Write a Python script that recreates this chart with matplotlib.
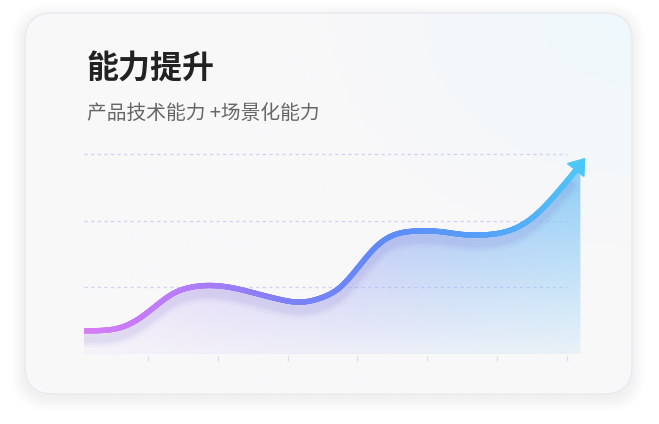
import numpy as np
import matplotlib.pyplot as plt
from matplotlib.patches import FancyBboxPatch, Polygon
from matplotlib.collections import LineCollection
from matplotlib.colors import LinearSegmentedColormap, to_rgb

plt.rcParams['font.family'] = ['Noto Sans CJK SC', 'DejaVu Sans']

# ---- data ----
title = "能力提升"
subtitle = "产品技术能力 +场景化能力"
curve_x = [-0.92, -0.59, -0.36, -0.12, 0.13, 0.36, 0.60, 0.89, 1.18, 1.51, 1.89, 2.18,
           2.47, 2.76, 3.04, 3.33, 3.62, 3.90, 4.19, 4.48, 4.76, 5.05, 5.34, 5.62,
           5.91, 6.10, 6.27]
curve_y = [0.35, 0.36, 0.41, 0.54, 0.74, 0.91, 1.00, 1.03, 1.00, 0.92, 0.82, 0.78,
           0.84, 1.01, 1.34, 1.67, 1.82, 1.85, 1.84, 1.80, 1.79, 1.82, 1.93, 2.15,
           2.48, 2.72, 2.95]
grid_y = [1, 2, 3]
tick_x = [0, 1, 2, 3, 4, 5, 6]
fill_end = 6.2

line_colors = ["#d87cf5", "#b57bf9", "#7f80f8", "#5f8af8", "#55a0f8", "#4ec6f7"]
fill_colors = ["#e6cffc", "#c6b6f7", "#a6aaf5", "#8ab8f6", "#7cc6f7"]


def smooth(x, y, xs):
    # natural cubic spline, only used to draw a smooth line through the points
    x = np.asarray(x, float)
    y = np.asarray(y, float)
    n = len(x)
    h = np.diff(x)
    A = np.zeros((n, n))
    b = np.zeros(n)
    A[0, 0] = A[-1, -1] = 1
    for i in range(1, n - 1):
        A[i, i - 1] = h[i - 1]
        A[i, i] = 2 * (h[i - 1] + h[i])
        A[i, i + 1] = h[i]
        b[i] = 6 * ((y[i + 1] - y[i]) / h[i] - (y[i] - y[i - 1]) / h[i - 1])
    M = np.linalg.solve(A, b)
    idx = np.clip(np.searchsorted(x, xs) - 1, 0, n - 2)
    x0, x1 = x[idx], x[idx + 1]
    hh = h[idx]
    a = (x1 - xs) / hh
    c = (xs - x0) / hh
    return (a * y[idx] + c * y[idx + 1]
            + ((a**3 - a) * M[idx] + (c**3 - c) * M[idx + 1]) * hh**2 / 6)


fig = plt.figure(figsize=(6.59, 4.24), dpi=100)
fig.patch.set_facecolor("white")

# ---- card background ----
bg = fig.add_axes([0, 0, 1, 1])
bg.set_xlim(0, 659)
bg.set_ylim(424, 0)
bg.axis("off")

cx, cy, cw, ch = 25, 13, 607, 381
for i in range(14, 0, -1):
    sh = FancyBboxPatch((cx - i, cy - i + 4), cw + 2 * i, ch + 2 * i,
                        boxstyle="round,pad=0,rounding_size=%d" % (28 + i),
                        facecolor="#aab0c8", edgecolor="none", alpha=0.010)
    bg.add_patch(sh)
card = FancyBboxPatch((cx, cy), cw, ch, boxstyle="round,pad=0,rounding_size=28",
                      facecolor="#f8f8f9", edgecolor="none")
bg.add_patch(card)

gx, gy = np.meshgrid(np.linspace(cx, cx + cw, 200), np.linspace(cy, cy + ch, 130))
dist = np.hypot(gx - (cx + cw), (gy - cy) * 1.3)
t = np.clip(1 - dist / 300, 0, 1)[..., None]
c0 = np.array(to_rgb("#f8f8f9"))
c1 = np.array(to_rgb("#eef7fc"))
img = c0 * (1 - t) + c1 * t
im = bg.imshow(img, extent=(cx, cx + cw, cy + ch, cy), origin="upper",
               interpolation="bilinear", aspect="auto", zorder=1)
im.set_clip_path(card)
border = FancyBboxPatch((cx, cy), cw, ch, boxstyle="round,pad=0,rounding_size=28",
                        facecolor="none", edgecolor="#e9e9ee", linewidth=1.0, zorder=2)
bg.add_patch(border)

bg.text(86, 70, title, fontsize=23, fontweight="bold", color="#222222",
        va="center", ha="left", zorder=3)
bg.text(87, 113, subtitle, fontsize=14.2, color="#666666",
        va="center", ha="left", zorder=3)

# ---- chart ----
ax = fig.add_axes([84 / 659, 70 / 424, 516 / 659, 214 / 424])
ax.set_xlim(-0.92, 6.48)
ax.set_ylim(0, 3.218)
ax.axis("off")
ax.patch.set_alpha(0)

ax.hlines(grid_y, -0.92, 6, colors="#d4d1f5", linewidth=0.95,
          linestyles=(0, (2.5, 2.5)), zorder=1)
ax.hlines([0], -0.92, 6, colors="#dcdcf7", linewidth=0.9, zorder=1)
ax.vlines(tick_x, -0.035, -0.105, colors="#dcdcee", linewidth=0.9, clip_on=False)

xs = np.linspace(curve_x[0], curve_x[-1], 800)
ys = smooth(curve_x, curve_y, xs)

# area fill with gradient
mask = xs <= fill_end
poly_pts = np.column_stack([np.r_[xs[mask], fill_end, xs[0]],
                            np.r_[ys[mask], 0, 0]])
poly = Polygon(poly_pts, closed=True, facecolor="none", edgecolor="none")
ax.add_patch(poly)
fcmap = LinearSegmentedColormap.from_list("fill", fill_colors)
H, W = 150, 300
fx = np.linspace(0, 1, W)
fy = np.linspace(3.0, 0, H)
rgba = np.zeros((H, W, 4))
rgba[..., :3] = fcmap(fx)[None, :, :3]
rgba[..., 3] = np.clip(0.12 + 0.26 * fy, 0, 1)[:, None]
fim = ax.imshow(rgba, extent=(xs[0], fill_end, 0, 3.0), origin="upper",
                aspect="auto", interpolation="bilinear", zorder=2)
fim.set_clip_path(poly)

# soft shadow under line
for w, a in [(13, 0.035), (9, 0.05), (6, 0.06)]:
    ax.plot(xs[:-25], ys[:-25] - 0.12, color="#6f62c8", linewidth=w, alpha=a,
            solid_capstyle="round", zorder=3)

# gradient line
lcmap = LinearSegmentedColormap.from_list("line", line_colors)
end = len(xs) - 12
pts = np.column_stack([xs[:end], ys[:end]]).reshape(-1, 1, 2)
segs = np.concatenate([pts[:-1], pts[1:]], axis=1)
lc = LineCollection(segs, colors=lcmap((xs[:end - 1] - xs[0]) / (xs[-1] - xs[0])),
                    linewidth=3.9, capstyle="round", zorder=4)
ax.add_collection(lc)

ax.annotate("", xy=(xs[-1], ys[-1]), xytext=(xs[-30], ys[-30]),
            arrowprops=dict(arrowstyle="-|>,head_length=0.62,head_width=0.45",
                            color=line_colors[-1], lw=1.3, mutation_scale=16,
                            shrinkA=0, shrinkB=0, joinstyle="round"),
            zorder=5)

fig.savefig("out.png", dpi=100)
